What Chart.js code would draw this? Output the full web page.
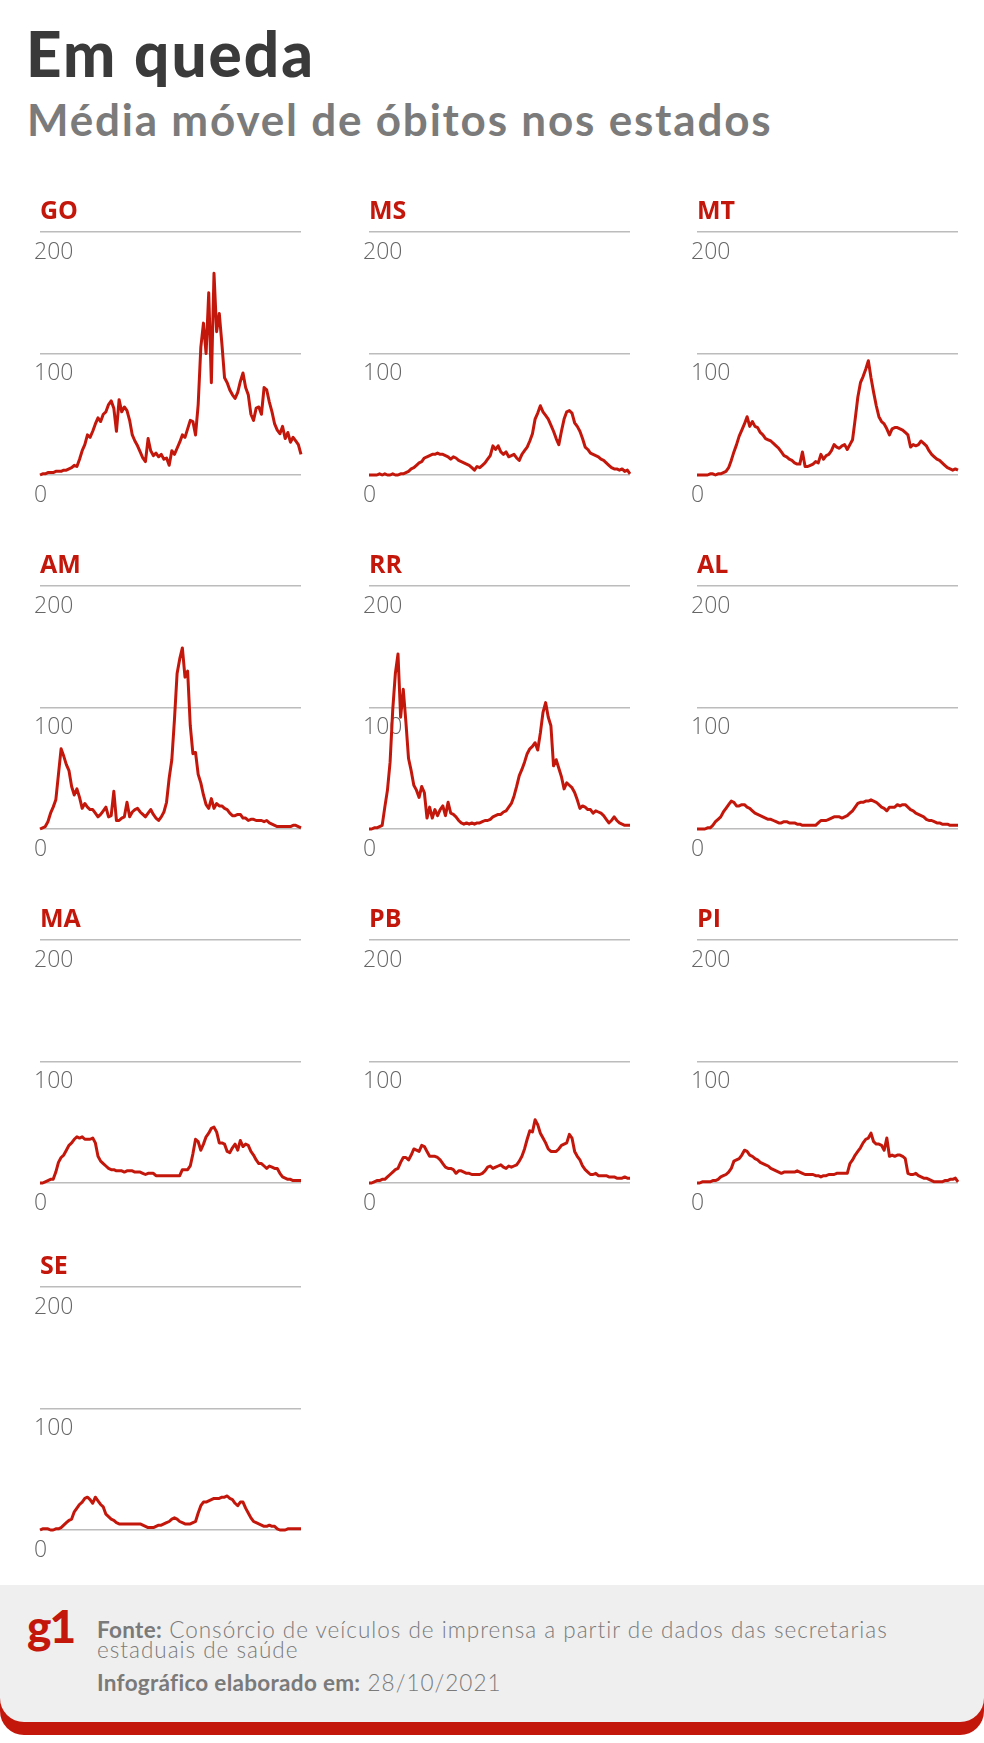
<!DOCTYPE html>
<html lang="pt-BR">
<head>
<meta charset="utf-8">
<script src="https://cdn.jsdelivr.net/npm/chart.js@4.4.0/dist/chart.umd.min.js"></script>
<style>
  html, body { margin: 0; padding: 0; background: #fff; }
  #pagina { position: relative; width: 984px; height: 1743px; overflow: hidden; font-family: Lato, "Open Sans", sans-serif; }
  h1 { position: absolute; left: 26px; top: 22px; margin: 0; font-size: 62px; line-height: 62px; font-weight: 900; color: #3a3a3a; letter-spacing: 2px; }
  h2 { position: absolute; left: 27px; top: 97px; margin: 0; font-size: 44px; line-height: 44px; font-weight: 700; color: #7b7b7b; letter-spacing: 1.8px; }
  #graficos canvas { position: absolute; }
  #rodape-vermelho { position: absolute; left: 0; top: 1585px; width: 984px; height: 150px; background: #c4170c; border-radius: 0 0 24px 24px; }
  #rodape { position: absolute; left: 0; top: 1585px; width: 984px; height: 137px; background: #efefef; border-radius: 0 0 24px 24px; }
  #logo { position: absolute; left: 27px; top: 1603px; font-size: 46px; line-height: 46px; font-weight: 900; color: #c4170c; letter-spacing: -2px; }
  .nota { position: absolute; left: 97px; margin: 0; font-size: 22.5px; line-height: 20px; font-weight: 300; color: #7a7a7a; letter-spacing: 1px; white-space: nowrap; }
  .nota b { font-weight: 700; letter-spacing: 0.3px; }
</style>
</head>
<body>
<div id="pagina">
  <h1>Em queda</h1>
  <h2>Média móvel de óbitos nos estados</h2>
  <div id="graficos"></div>
  <div id="rodape-vermelho"></div>
  <div id="rodape"></div>
  <div id="logo">g1</div>
  <p class="nota" style="top:1620px"><b>Fonte:</b> Consórcio de veículos de imprensa a partir de dados das secretarias<br>estaduais de saúde</p>
  <p class="nota" style="top:1673px"><b>Infográfico elaborado em:</b> 28/10/2021</p>
</div>
<script>
document.addEventListener("DOMContentLoaded", function() {

    const estados = ['GO', 'MS', 'MT', 'AM', 'RR', 'AL', 'MA', 'PB', 'PI', 'SE'];
    const ticksY = [0, 100, 200];

    // média móvel, um ponto a cada ~6 dias (mar/2020 a out/2021)
    const GO = [0,1,1,2,2,2,3,3,3,4, 4,5,6,8,7,13,20,25,33,31, 36,42,47,44,50,52,58,61,55,36, 62,52,56,53,45,33,28,24,19,14,
                11,30,20,16,18,15,17,13,14,8, 20,17,22,27,33,31,38,45,44,33, 58,105,125,100,150,76,166,118,133,108,
                80,76,70,66,63,68,77,84,72,66, 50,45,55,56,50,72,70,60,52,42, 37,34,40,30,35,27,31,28,25,17];
    const MS = [0,0,0,0,1,0,1,0,0,1, 0,0,1,1,2,3,5,6,8,10, 11,14,15,16,17,17,18,17,17,16, 15,13,15,14,12,11,10,9,8,6,
                4,7,6,8,10,13,16,24,21,24, 19,17,19,15,16,17,14,12,17,20, 23,28,34,46,51,57,52,49,46,41,
                36,30,25,36,46,52,53,51,43,40, 36,30,23,21,18,17,16,15,13,12, 10,8,6,5,5,4,5,3,4,1];
    const MT = [0,0,0,0,0,1,1,0,1,1, 2,3,6,12,19,25,32,37,42,48, 40,44,40,39,35,33,30,29,28,26, 24,22,19,16,15,13,12,10,9,9,
                19,7,7,8,9,11,10,17,13,16, 17,20,25,23,22,24,25,21,25,29, 46,64,76,81,87,94,80,68,57,48,
                44,42,38,33,38,39,39,38,37,35, 33,23,25,24,25,28,26,24,20,17, 15,13,12,10,8,6,5,4,5,4];
    const AM = [0,1,2,6,13,18,24,45,66,60, 53,48,35,28,33,26,17,21,18,16, 16,13,10,12,15,18,10,11,31,7, 7,9,10,22,10,14,16,17,14,12,
                10,13,16,12,9,7,10,14,22,42, 57,90,128,140,149,125,130,85,62,63, 45,38,28,20,17,25,17,21,19,19,
                17,16,13,11,11,12,12,9,9,7, 8,8,7,7,7,6,7,5,4,3, 2,2,2,2,2,2,3,3,2,1];
    const RR = [0,0,1,1,2,3,18,32,55,98, 128,144,92,115,88,58,48,36,32,26, 35,30,9,18,9,16,11,16,19,11, 22,13,12,10,7,5,4,5,4,5,
                4,5,5,6,7,7,8,10,11,12, 12,14,15,18,21,27,35,44,49,55, 62,66,68,71,65,79,96,104,92,85,
                52,57,50,43,33,38,36,34,30,24, 17,19,18,16,16,13,15,14,13,11, 8,5,7,10,7,5,4,3,3,3];
    const AL = [0,0,0,0,1,1,3,6,8,10, 14,17,20,23,22,19,19,20,20,18, 17,15,13,12,11,10,9,8,8,7, 6,5,5,6,6,5,5,5,4,4,
                3,3,3,3,3,3,5,7,7,7, 8,9,10,10,10,9,10,11,13,15, 18,21,22,22,23,23,24,23,22,20,
                18,17,15,18,18,18,20,19,20,20, 18,16,15,13,12,11,10,8,7,7, 6,5,5,4,4,4,3,3,3,3];
    const MA = [0,0,1,2,3,3,9,17,21,23, 27,31,33,36,38,37,38,36,36,36, 37,33,22,18,16,14,12,11,11,10, 10,10,9,10,10,10,9,9,9,8,
                7,8,8,8,6,6,6,6,6,6, 6,6,6,6,11,11,11,14,24,36, 34,27,32,38,41,45,46,42,33,33,
                32,26,25,29,32,27,35,30,32,31, 26,23,19,16,16,14,12,14,13,12, 12,8,5,4,3,3,2,2,2,2];
    const PB = [0,0,1,2,2,3,3,5,7,9, 11,12,17,21,21,19,23,28,27,26, 31,30,26,22,22,22,21,19,16,13, 12,12,11,8,10,10,9,8,8,7,
                7,7,7,8,10,13,14,12,13,14, 15,13,12,14,13,14,15,18,22,28, 36,43,42,52,48,41,37,33,28,26,
                26,26,28,31,32,33,40,37,26,22, 19,14,11,9,7,7,8,6,6,6, 6,5,5,5,4,4,4,5,4,4];
    const PI = [0,0,1,1,1,1,2,2,3,5, 6,7,9,12,18,19,20,23,27,26, 23,22,20,19,17,16,15,14,12,11, 10,9,8,9,9,9,9,9,10,9,
                8,7,7,7,7,6,6,5,6,6, 7,7,7,8,8,8,8,8,16,19, 23,26,29,33,36,37,41,34,32,32,
                31,27,37,22,23,22,23,23,22,20, 8,7,7,8,6,5,4,4,3,2, 1,1,1,1,2,2,3,3,4,1];
    const SE = [0,1,1,1,0,0,1,1,2,4, 6,8,9,15,18,21,23,26,27,25, 22,27,24,21,19,13,11,9,8,6, 5,5,5,5,5,5,5,5,5,4,
                3,2,2,2,3,4,4,5,6,7, 9,10,9,7,6,5,5,5,6,7, 14,20,23,23,24,25,26,26,26,27,
                27,28,26,25,22,20,23,23,18,14, 10,7,6,5,4,3,3,4,3,3, 1,0,0,0,1,1,1,1,1,1];

    const series = { GO, MS, MT, AM, RR, AL, MA, PB, PI, SE };

    const vermelho = '#c4170c';
    const colunas = [40, 369, 697];
    const linhas = [200, 554, 908, 1255];
    const margem = 6;
    const largura = 261 + 2 * margem, altura = 305;
    const inicio = Date.UTC(2020, 2, 17);

    estados.forEach((uf, i) => {
        const canvas = document.createElement('canvas');
        canvas.width = largura;
        canvas.height = altura;
        canvas.style.left = (colunas[i % 3] - margem) + 'px';
        canvas.style.top = linhas[Math.floor(i / 3)] + 'px';
        document.getElementById('graficos').appendChild(canvas);

        const valores = series[uf];
        const dias = valores.map((v, k) => new Date(inicio + k * 6 * 864e5).toISOString().slice(0, 10));

        new Chart(canvas.getContext('2d'), {
            type: 'line',
            data: {
                labels: dias,
                datasets: [{
                    label: uf,
                    data: valores,
                    borderColor: vermelho,
                    borderWidth: 3,
                    borderJoinStyle: 'round',
                    pointRadius: 0,
                    tension: 0,
                    fill: false,
                    clip: false
                }]
            },
            options: {
                responsive: false,
                animation: false,
                layout: { padding: { left: margem, right: margem, top: 0, bottom: 30 } },
                scales: {
                    x: { display: false },
                    y: {
                        min: 0,
                        max: 200,
                        afterBuildTicks: axis => { axis.ticks = ticksY.map(v => ({ value: v })); },
                        border: { display: false },
                        grid: { color: '#bcbcbc', lineWidth: 1.5, drawTicks: false },
                        ticks: {
                            mirror: true,
                            padding: -2,
                            labelOffset: 20,
                            color: '#666666',
                            font: { family: 'Open Sans', size: 23, weight: '300' }
                        }
                    }
                },
                plugins: {
                    legend: { display: false },
                    tooltip: { enabled: false },
                    title: {
                        display: true,
                        text: uf,
                        align: 'start',
                        color: vermelho,
                        font: { family: 'Open Sans', size: 25, weight: 'bold', lineHeight: 0.96 },
                        padding: { top: 0, bottom: 8 }
                    }
                }
            }
        });
    });
});
</script>
</body>
</html>
